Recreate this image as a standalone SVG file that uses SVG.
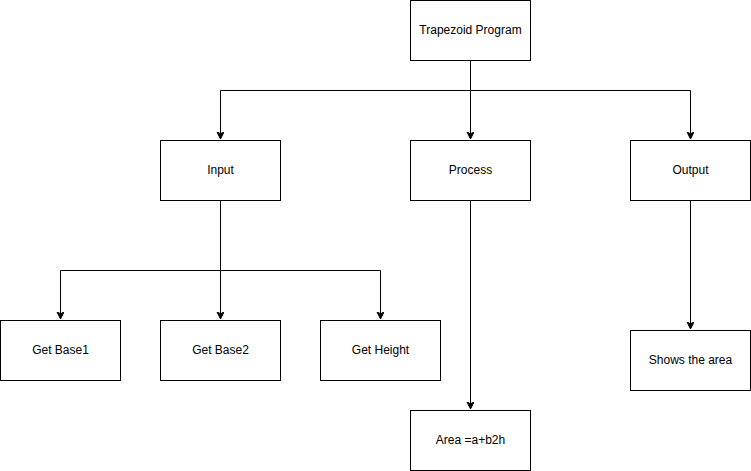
<svg xmlns="http://www.w3.org/2000/svg" width="751" height="471" viewBox="0 0 751 471">
<defs>
<style>
.box{fill:#fff;stroke:#000;stroke-width:1}
.lbl{font-family:"Liberation Sans",Arial,sans-serif;font-size:12px;fill:#000;text-anchor:middle;dominant-baseline:central}
.edge{fill:none;stroke:#000;stroke-width:1}
</style>
<marker id="arr" markerWidth="8" markerHeight="8" refX="7" refY="3.5" orient="auto" markerUnits="userSpaceOnUse">
<path d="M0,0 L7,3.5 L0,7 L1.75,3.5 Z" fill="#000" stroke="#000" stroke-width="1"/>
</marker>
</defs>
<rect width="751" height="471" fill="#fff"/>
<g id="connectors">
<path class="edge" d="M470.5,60.5 V90.5 H220.5 V139" marker-end="url(#arr)"/>
<path class="edge" d="M470.5,60.5 V139" marker-end="url(#arr)"/>
<path class="edge" d="M470.5,90.5 H690.5 V139" marker-end="url(#arr)"/>
<path class="edge" d="M220.5,200.5 V270.5 H60.5 V319" marker-end="url(#arr)"/>
<path class="edge" d="M220.5,200.5 V319" marker-end="url(#arr)"/>
<path class="edge" d="M220.5,270.5 H380.5 V319" marker-end="url(#arr)"/>
<path class="edge" d="M470.5,200.5 V409" marker-end="url(#arr)"/>
<path class="edge" d="M690.5,200.5 V329" marker-end="url(#arr)"/>
</g>
<g id="trapezoid"><rect class="box" x="410.5" y="0.5" width="120" height="60"/><text class="lbl" x="470.5" y="29.5">Trapezoid Program</text></g>
<g id="input"><rect class="box" x="160.5" y="140.5" width="120" height="60"/><text class="lbl" x="220.5" y="169.5">Input</text></g>
<g id="process"><rect class="box" x="410.5" y="140.5" width="120" height="60"/><text class="lbl" x="470.5" y="169.5">Process</text></g>
<g id="output"><rect class="box" x="630.5" y="140.5" width="120" height="60"/><text class="lbl" x="690.5" y="169.5">Output</text></g>
<g id="base1"><rect class="box" x="0.5" y="320.5" width="120" height="60"/><text class="lbl" x="60.5" y="349.5">Get Base1</text></g>
<g id="base2"><rect class="box" x="160.5" y="320.5" width="120" height="60"/><text class="lbl" x="220.5" y="349.5">Get Base2</text></g>
<g id="height"><rect class="box" x="320.5" y="320.5" width="120" height="60"/><text class="lbl" x="380.5" y="349.5">Get Height</text></g>
<g id="shows"><rect class="box" x="630.5" y="330.5" width="120" height="60"/><text class="lbl" x="690.5" y="359.5">Shows the area</text></g>
<g id="area"><rect class="box" x="410.5" y="410.5" width="120" height="60"/><text class="lbl" x="470.5" y="439.5">Area =a+b2h</text></g>
</svg>
